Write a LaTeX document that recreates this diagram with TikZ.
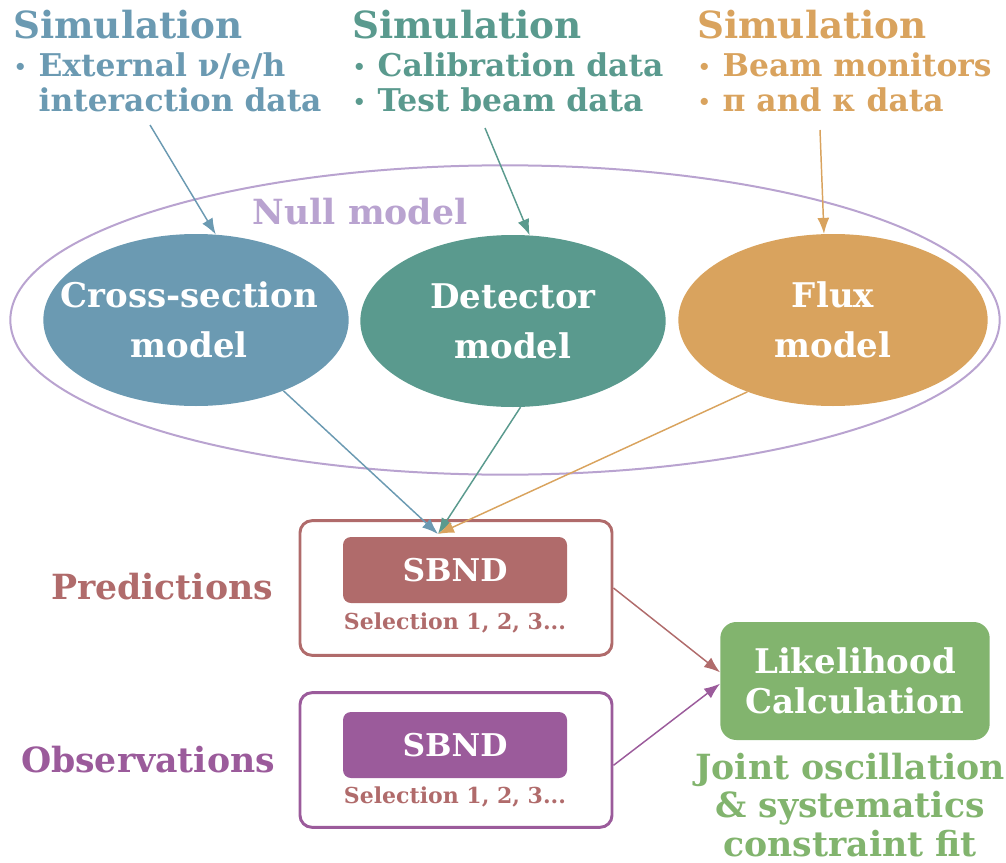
\documentclass[tikz,border=0pt]{standalone}
\usepackage{fontspec}
\usepackage{graphicx}
\setmainfont{DejaVu Serif}
\definecolor{XsecBlue}{HTML}{6B9AB2}
\definecolor{DetTeal}{HTML}{5A9A8E}
\definecolor{FluxOrange}{HTML}{D9A35E}
\definecolor{NullLav}{HTML}{B9A3D0}
\definecolor{PredRed}{HTML}{B06B6B}
\definecolor{ObsPurple}{HTML}{9B5B9B}
\definecolor{LikeGreen}{HTML}{82B46E}
\newcommand{\simdot}{\makebox[19pt][l]{\hspace{0.5pt}\raisebox{0.1ex}{\scalebox{0.65}{•}}}}
\usetikzlibrary{positioning, arrows.meta, shapes.geometric}

\begin{document}
\begin{tikzpicture}[x=0.75pt, y=-0.75pt,
  simhead/.style={anchor=north west, inner sep=0pt, font=\bfseries\fontsize{28}{32}\selectfont},
  simlist/.style={anchor=north west, inner sep=0pt, align=left, font=\bfseries\fontsize{23.5}{26.5}\selectfont},
  model/.style={ellipse, inner sep=0pt, minimum width=229pt, minimum height=129pt},
  modeltext/.style={text=white, align=center, font=\bfseries\fontsize{25.5}{37.5}\selectfont},
  flow/.style={line width=1.1pt, -{Latex[length=12pt, width=9pt]}},
  outerbox/.style={draw, line width=2.2pt, rounded corners=9pt, minimum width=234pt, minimum height=101pt},
  sbnd/.style={rounded corners=6pt, minimum width=168pt, minimum height=49.5pt, text=white,
    font=\bfseries\fontsize{23.5}{28}\selectfont},
  seltext/.style={font=\bfseries\fontsize{16.5}{19}\selectfont, text=PredRed},
  sidelabel/.style={font=\bfseries\fontsize{26}{30}\selectfont}]
  \useasboundingbox (0,0) rectangle (1006,863);
  % Simulation inputs
  \node[simhead, text=XsecBlue] (simA) at (13,10) {Simulation};
  \node[simlist, text=XsecBlue] (simAlist) at (13,52) {\simdot External ν/e/h\\\phantom{\simdot}interaction data};
  \node[simhead, text=DetTeal] (simB) at (352,10) {Simulation};
  \node[simlist, text=DetTeal] (simBlist) at (352,52) {\simdot Calibration data\\\simdot Test beam data};
  \node[simhead, text=FluxOrange] (simC) at (697,10) {Simulation};
  \node[simlist, text=FluxOrange] (simClist) at (697,52) {\simdot Beam monitors\\\simdot π and κ data};
  % Null model
  \node[ellipse, draw=NullLav, line width=1.5pt, minimum width=742pt, minimum height=232pt] (null) at (505,320) {};
  \node[text=NullLav, font=\bfseries\fontsize{26}{30}\selectfont] (nulltxt) at (360,212) {Null model};
  \node[model, fill=XsecBlue] (xsec) at (196,320) {};
  \node[modeltext] at ([xshift=-5pt]xsec) {Cross-section\\model};
  \node[model, fill=DetTeal] (det) at (513,321) {};
  \node[modeltext] at (det) {Detector\\model};
  \node[model, fill=FluxOrange, minimum width=232pt] (flux) at (833,320) {};
  \node[modeltext] at (flux) {Flux\\model};
  \coordinate (simAout) at (150,125);
  \coordinate (simBout) at (485,128);
  \coordinate (simCout) at (820,130);
  \draw[flow, XsecBlue] (simAout) -- (xsec.77);
  \draw[flow, DetTeal] (simBout) -- (det.79);
  \draw[flow, FluxOrange] (simCout) -- (flux.96);
  % Predictions
  \node[outerbox, draw=PredRed] (pred) at (456,588) {};
  \node[sbnd, fill=PredRed] (predsbnd) at (455,570) {SBND};
  \node[seltext] (predsel) at (455,623) {Selection 1, 2, 3...};
  \node[sidelabel, text=PredRed] (predlbl) at (162,587) {Predictions};
  \coordinate (hit) at (438,534);
  \draw[flow, XsecBlue] (xsec.-39) -- (hit);
  \draw[flow, DetTeal] (det.-85) -- (hit);
  \draw[flow, FluxOrange] (flux.220) -- (hit);
  % Observations
  \node[outerbox, draw=ObsPurple] (obs) at (456,760) {};
  \node[sbnd, fill=ObsPurple] (obssbnd) at (455,745) {SBND};
  \node[seltext] (obssel) at (455,797) {Selection 1, 2, 3...};
  \node[sidelabel, text=ObsPurple] (obslbl) at (148,760) {Observations};
  % Likelihood
  \node[rounded corners=12pt, fill=LikeGreen, minimum width=202pt, minimum height=88.5pt, text=white,
    align=center, font=\bfseries\fontsize{25.5}{30}\selectfont] (like) at (855,681) {Likelihood\\Calculation};
  \node[text=LikeGreen, align=center, font=\bfseries\fontsize{26}{29}\selectfont] (fit) at (850,805)
    {Joint oscillation\\\& systematics\\constraint fit};
  \draw[flow, PredRed] (pred.east) -- ([yshift=6.5pt]like.west);
  \draw[flow, ObsPurple] ([yshift=-4pt]obs.east) -- ([yshift=-2pt]like.west);
\end{tikzpicture}
\end{document}
